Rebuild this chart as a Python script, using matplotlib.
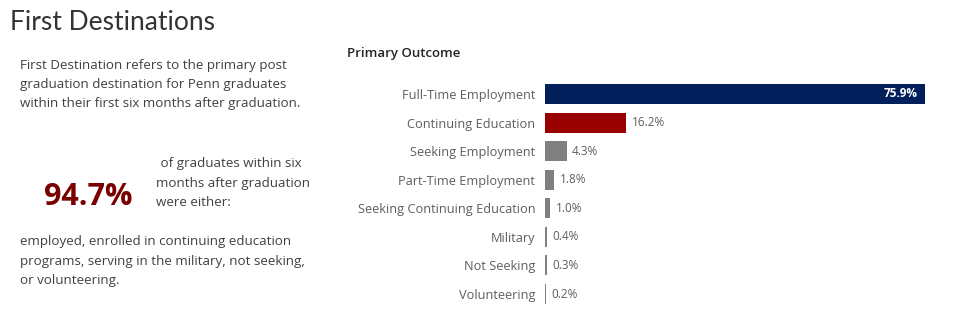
import matplotlib
matplotlib.use("Agg")
import matplotlib.pyplot as plt

# === Data ===
categories = [
    "Full-Time Employment",
    "Continuing Education",
    "Seeking Employment",
    "Part-Time Employment",
    "Seeking Continuing Education",
    "Military",
    "Not Seeking",
    "Volunteering",
]
values = [75.9, 16.2, 4.3, 1.8, 1.0, 0.4, 0.3, 0.2]
bar_colors = ["#011F5B", "#990000", "#808080", "#808080",
              "#808080", "#808080", "#808080", "#808080"]
headline = "94.7%"

plt.rcParams["font.family"] = ["Open Sans", "DejaVu Sans"]

fig = plt.figure(figsize=(9.6, 3.26), dpi=100)
W, H = 960, 326


def fx(px):
    return px / W


def fy(py):
    return 1 - py / H


# ---------- left text panel ----------
fig.text(fx(10), fy(23), "First Destinations", fontsize=19, color="#333333",
         fontweight="normal", family=["Lato", "Open Sans", "DejaVu Sans"],
         va="center", ha="left")

intro = ["First Destination refers to the primary post",
         "graduation destination for Penn graduates",
         "within their first six months after graduation."]
for i, line in enumerate(intro):
    fig.text(fx(20), fy(65 + i * 19.3), line, fontsize=9.6, color="#404040",
             va="center", ha="left")

fig.text(fx(88), fy(197), headline, fontsize=22, fontweight="bold",
         color="#7A0000", va="center", ha="center")

side = [(" of graduates within six", 157), ("months after graduation", 156),
        ("were either:", 156)]
for i, (line, x) in enumerate(side):
    fig.text(fx(x), fy(164 + i * 19.3), line, fontsize=9.6, color="#404040",
             va="center", ha="left")

outro = ["employed, enrolled in continuing education",
         "programs, serving in the military, not seeking,",
         "or volunteering."]
for i, line in enumerate(outro):
    fig.text(fx(20), fy(242 + i * 19.3), line, fontsize=9.6, color="#404040",
             va="center", ha="left")

# ---------- bar chart ----------
fig.text(fx(347), fy(53), "Primary Outcome", fontsize=9.5, fontweight="semibold",
         color="#252423", va="center", ha="left")

ax_left, ax_right = 545, 935
ax = fig.add_axes([fx(ax_left), fy(308.3), fx(ax_right - ax_left), (308.3 - 79.7) / H])
y = list(range(len(categories)))
ax.barh(y, values, height=0.7, color=bar_colors, edgecolor="none")
ax.set_ylim(len(categories) - 0.5, -0.5)
ax.set_xlim(0, values[0] * (ax_right - ax_left) / 380)
ax.set_yticks(y)
ax.set_yticklabels(categories, fontsize=9.2, color="#605E5C")
ax.tick_params(axis="y", length=0, pad=7)
ax.set_xticks([])
for s in ax.spines.values():
    s.set_visible(False)

for i, v in enumerate(values):
    label = f"{v:.1f}%"
    if i == 0:
        ax.annotate(label, (v, i), xytext=(-5, 0), textcoords="offset points",
                    ha="right", va="center", fontsize=8.5, fontweight="bold",
                    color="white")
    else:
        ax.annotate(label, (v, i), xytext=(4, 0), textcoords="offset points",
                    ha="left", va="center", fontsize=8.5, color="#605E5C")

fig.savefig("out.png", dpi=100)
